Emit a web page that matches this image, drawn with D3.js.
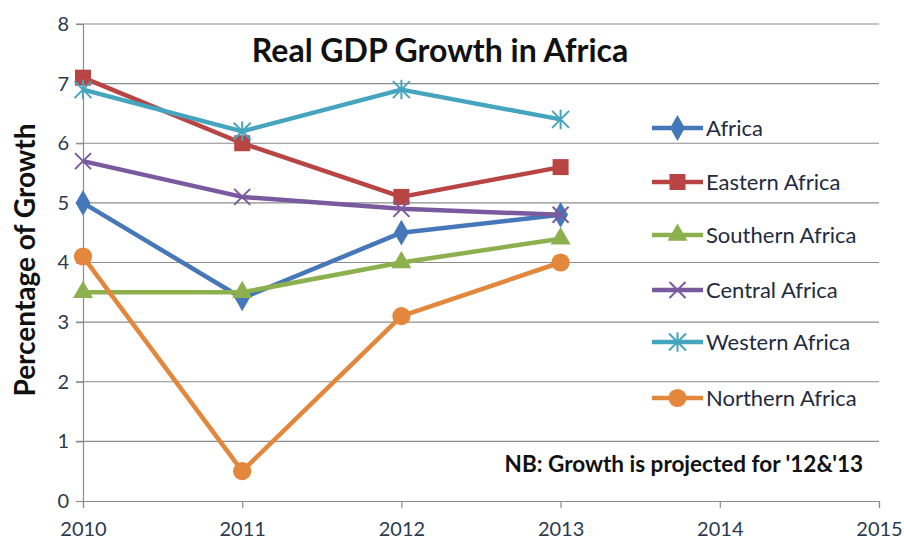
<!DOCTYPE html>
<html><head><meta charset="utf-8">
<script src="https://cdn.jsdelivr.net/npm/d3@7"></script>
<style>body{margin:0;background:#fff}svg{display:block}text{font-family:Lato,"Open Sans",sans-serif}</style>
</head><body><svg id="c" width="904" height="544"></svg>
<script>
const years = [2010, 2011, 2012, 2013];
const xTicks = [2010, 2011, 2012, 2013, 2014, 2015];
const yTicks = [0, 1, 2, 3, 4, 5, 6, 7, 8];
const seriesNames = ["Africa", "Eastern Africa", "Southern Africa", "Central Africa", "Western Africa", "Northern Africa"];
const africa   = [5.0, 3.4, 4.5, 4.8];
const eastern  = [7.1, 6.0, 5.1, 5.6];
const southern = [3.5, 3.5, 4.0, 4.4];
const central  = [5.7, 5.1, 4.9, 4.8];
const western  = [6.9, 6.2, 6.9, 6.4];
const northern = [4.1, 0.5, 3.1, 4.0];
const seriesValues = [africa, eastern, southern, central, western, northern];
const colors = ["#4677b8", "#b84444", "#8db04e", "#7a5a9e", "#45a5bf", "#e2873b"];
const markers = ["diamond", "square", "triangle", "x", "star", "circle"];
const title = "Real GDP Growth in Africa";
const yLabel = "Percentage of Growth";
const note = "NB: Growth is projected for '12&'13";

const svg = d3.select("#c");
const x = d3.scaleLinear().domain([2010, 2015]).range([83, 879]);
const y = d3.scaleLinear().domain([0, 8]).range([501, 24]);

// gridlines
svg.append("g").selectAll("line").data(yTicks.filter(d => d > 0)).join("line")
  .attr("x1", 76).attr("x2", 879).attr("y1", d => y(d)).attr("y2", d => y(d))
  .attr("stroke", "#8c8c8c").attr("stroke-width", 1.2);

// y axis
const ya = svg.append("g").attr("transform", "translate(83,0)")
  .call(d3.axisLeft(y).tickValues(yTicks).tickSize(7).tickPadding(7).tickFormat(d3.format("d")));
ya.select(".domain").attr("stroke", "#8c8c8c").attr("stroke-width", 1.2);
ya.selectAll(".tick line").attr("stroke", "#8c8c8c").attr("stroke-width", 1.2);
ya.selectAll("text").attr("font-size", 20).attr("fill", "#2c3a4f").attr("font-family", "Lato, 'Open Sans', sans-serif");

// x axis
const xa = svg.append("g").attr("transform", "translate(0,501)")
  .call(d3.axisBottom(x).tickValues(xTicks).tickSize(7).tickPadding(14).tickFormat(d3.format("d")));
xa.select(".domain").attr("stroke", "#8c8c8c").attr("stroke-width", 1.2);
xa.selectAll(".tick line").attr("stroke", "#8c8c8c").attr("stroke-width", 1.2);
xa.selectAll("text").attr("font-size", 20).attr("fill", "#2c3a4f").attr("font-family", "Lato, 'Open Sans', sans-serif");

function markerPath(type, s) {
  switch (type) {
    case "diamond": return d3.symbol(d3.symbolDiamond, s * s * 0.75)();
    case "square": return `M${-s/2},${-s/2}h${s}v${s}h${-s}Z`;
    case "triangle": return d3.symbol(d3.symbolTriangle, s * s * 0.6)();
    case "circle": return d3.symbol(d3.symbolCircle, s * s * 0.8)();
    case "x": { const h = s/2; return `M${-h},${-h}L${h},${h}M${-h},${h}L${h},${-h}`; }
    case "star": { const h = s/2; return `M${-h},${-h}L${h},${h}M${-h},${h}L${h},${-h}M0,${-h*1.15}L0,${h*1.15}`; }
  }
}
function drawMarker(g, type, color, cx, cy, s) {
  const stroke = (type === "x" || type === "star");
  g.append("path").attr("d", markerPath(type, s))
    .attr("transform", `translate(${cx},${cy})`)
    .attr("fill", stroke ? "none" : color)
    .attr("stroke", color).attr("stroke-width", stroke ? 2 : 0);
}

const line = d3.line().x((d, i) => x(years[i])).y(d => y(d));
const sizes = [16, 16, 17, 16, 17, 18];
seriesValues.forEach((vals, k) => {
  const g = svg.append("g");
  g.append("path").datum(vals).attr("d", line).attr("fill", "none")
    .attr("stroke", colors[k]).attr("stroke-width", 4.5).attr("stroke-linejoin", "round");
  vals.forEach((v, i) => drawMarker(g, markers[k], colors[k], x(years[i]), y(v), sizes[k]));
});

// title
svg.append("text").attr("x", 440).attr("y", 62).attr("text-anchor", "middle")
  .attr("font-size", 32).attr("font-weight", "bold").attr("fill", "#111").text(title);

// y label
svg.append("text").attr("transform", "translate(35,260) rotate(-90)").attr("text-anchor", "middle")
  .attr("font-size", 28).attr("font-weight", "bold").attr("fill", "#111").text(yLabel);

// legend
const legendY = [128, 182, 235, 290, 342, 398];
seriesNames.forEach((name, k) => {
  const g = svg.append("g");
  g.append("line").attr("x1", 652).attr("x2", 703).attr("y1", legendY[k]).attr("y2", legendY[k])
    .attr("stroke", colors[k]).attr("stroke-width", 4.5);
  drawMarker(g, markers[k], colors[k], 677.5, legendY[k], sizes[k]);
  g.append("text").attr("x", 706).attr("y", legendY[k]).attr("dy", "0.35em")
    .attr("font-size", 22).attr("fill", "#1f2b3e").text(name);
});

// note
svg.append("text").attr("x", 863).attr("y", 472).attr("text-anchor", "end")
  .attr("font-size", 22.5).attr("font-weight", "bold").attr("fill", "#111").text(note);
</script></body></html>
